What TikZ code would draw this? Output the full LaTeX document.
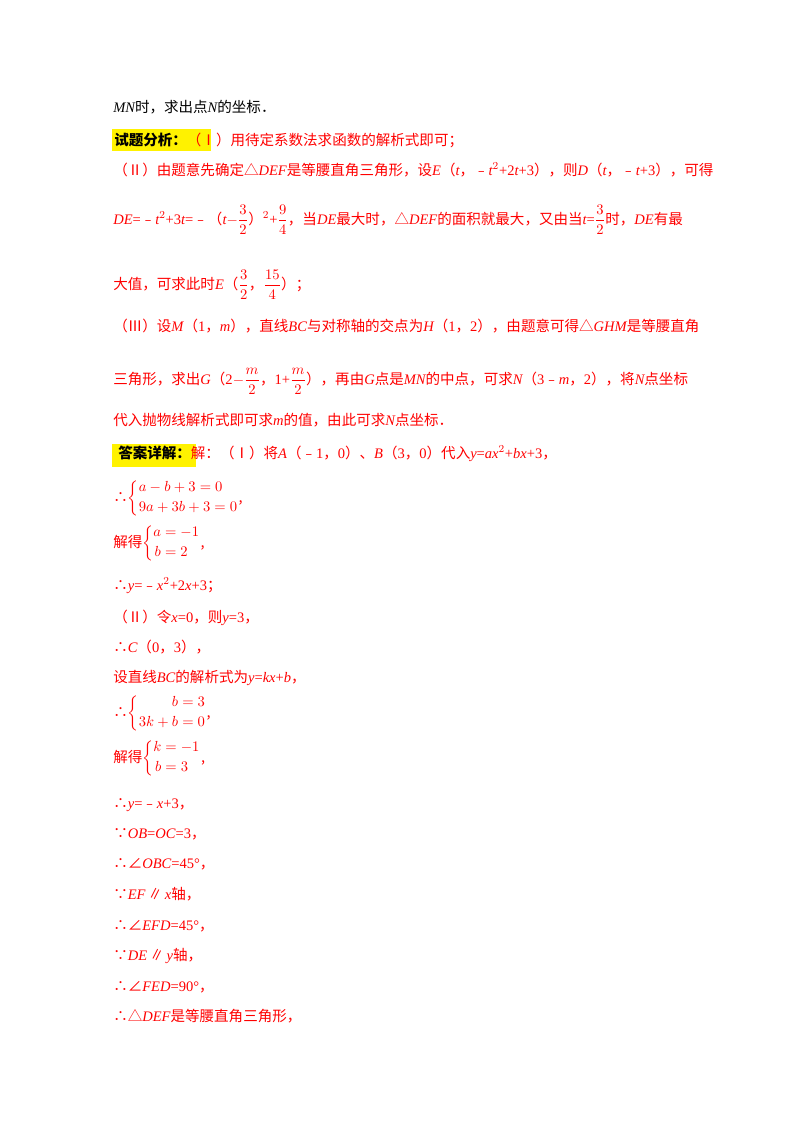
\documentclass[tikz,border=0pt]{standalone}
\usepackage{amsmath}
\usepackage{fontspec}
\setmainfont{Noto Sans CJK SC}
\newfontfamily\lat{Liberation Serif}
\newcommand\vv[1]{{\lat\itshape #1}}
\newcommand\nn[1]{{\lat #1}}
\newcommand\sysm[1]{$\left\{\begin{aligned}#1\end{aligned}\right.$}
\begin{document}
\begin{tikzpicture}[x=0.75pt,y=-0.75pt,
  ln/.style={anchor=base west,inner sep=0pt,font=\fontsize{10.9}{12}\selectfont},
  rd/.style={ln,text=red}]
\useasboundingbox (0,0) rectangle (800,1132);
\node[ln] (l1) at (113,112) {\vv{MN}时，求出点\vv{N}的坐标．};
\fill[yellow] (112,129) rectangle (211,151);
\node[ln] (l2) at (114,145) {\textbf{试题分析：}\textcolor{red}{（Ⅰ）用待定系数法求函数的解析式即可；}};
\node[rd] (l3) at (113,175) {（Ⅱ）由题意先确定△\vv{DEF}是等腰直角三角形，设\vv{E}（\vv{t}，﹣\vv{t}\nn{$^2$+2}\vv{t}\nn{+3}），则\vv{D}（\vv{t}，﹣\vv{t}\nn{+3}），可得};
\node[rd] (l4) at (113,224) {\vv{DE}\nn{=}﹣\vv{t}\nn{$^2$+3}\vv{t}\nn{=}﹣（\vv{t}$-\dfrac{3}{2}$）\nn{$^2$+}$\dfrac{9}{4}$，当\vv{DE}最大时，△\vv{DEF}的面积就最大，又由当\vv{t}\nn{=}$\dfrac{3}{2}$时，\vv{DE}有最};
\node[rd] (l5) at (113,289) {大值，可求此时\vv{E}（$\dfrac{3}{2}$，$\dfrac{15}{4}$）；};
\node[rd] (l6) at (113,331) {（Ⅲ）设\vv{M}（\nn{1}，\vv{m}），直线\vv{BC}与对称轴的交点为\vv{H}（\nn{1}，\nn{2}），由题意可得△\vv{GHM}是等腰直角};
\node[rd] (l7) at (113,384) {三角形，求出\vv{G}（\nn{2}$-\dfrac{m}{2}$，\nn{1+}$\dfrac{m}{2}$），再由\vv{G}点是\vv{MN}的中点，可求\vv{N}（\nn{3}﹣\vv{m}，\nn{2}），将\vv{N}点坐标};
\node[rd] (l8) at (113,425) {代入抛物线解析式即可求\vv{m}的值，由此可求\vv{N}点坐标．};
\fill[yellow] (112,444) rectangle (196,467);
\node[ln] (l9) at (118,458) {\textbf{答案详解：}\textcolor{red}{解：（Ⅰ）将\vv{A}（﹣\nn{1}，\nn{0}）、\vv{B}（\nn{3}，\nn{0}）代入\vv{y}\nn{=}\vv{ax}\nn{$^2$+}\vv{bx}\nn{+3}，}};
\node[rd] (l10) at (113,502) {∴\sysm{&a-b+3=0\\ &9a+3b+3=0},};
\node[rd] (l11) at (113,547) {解得\sysm{a&=-1\\ b&=2},};
\node[rd] (l12) at (113,590) {∴\vv{y}\nn{=}﹣\vv{x}\nn{$^2$+2}\vv{x}\nn{+3}；};
\node[rd] (l13) at (113,622) {（Ⅱ）令\vv{x}\nn{=0}，则\vv{y}\nn{=3}，};
\node[rd] (l14) at (113,652) {∴\vv{C}（\nn{0}，\nn{3}），};
\node[rd] (l15) at (113,682) {设直线\vv{BC}的解析式为\vv{y}\nn{=}\vv{kx}\nn{+}\vv{b}，};
\node[rd] (l16) at (113,717) {∴\sysm{b&=3\\ 3k+b&=0},};
\node[rd] (l17) at (113,762) {解得\sysm{k&=-1\\ b&=3},};
\node[rd] (l18) at (113,808) {∴\vv{y}\nn{=}﹣\vv{x}\nn{+3}，};
\node[rd] (l19) at (113,838) {∵\vv{OB}\nn{=}\vv{OC}\nn{=3}，};
\node[rd] (l20) at (113,868) {∴∠\vv{OBC}\nn{=45°}，};
\node[rd] (l21) at (113,899) {∵\vv{EF}\,∥\,\vv{x}轴，};
\node[rd] (l22) at (113,930) {∴∠\vv{EFD}\nn{=45°}，};
\node[rd] (l23) at (113,960) {∵\vv{DE}\,∥\,\vv{y}轴，};
\node[rd] (l24) at (113,991) {∴∠\vv{FED}\nn{=90°}，};
\node[rd] (l25) at (113,1021) {∴△\vv{DEF}是等腰直角三角形，};
\end{tikzpicture}
\end{document}
